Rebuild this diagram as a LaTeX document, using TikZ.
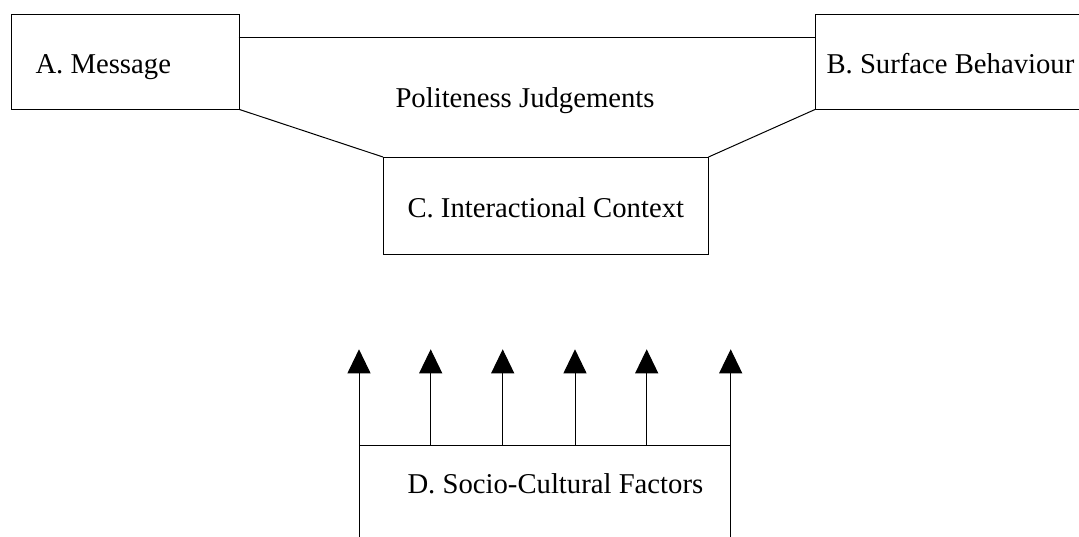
\documentclass[tikz,border=0pt]{standalone}
\usepackage{fontspec}
\setmainfont{Liberation Serif}
\usetikzlibrary{arrows.meta}
\begin{document}
\begin{tikzpicture}[x=1pt,y=-1pt,
  line width=1pt,
  lbl/.style={anchor=base west,inner sep=0pt,font=\fontsize{28.7}{34}\selectfont},
  boxA/.style={draw,rectangle,inner sep=0pt,minimum width=#1,anchor=north west},
  up/.style={-{Triangle[width=23pt,length=24pt]}}]
\useasboundingbox (0,0) rectangle (1079,536);

% three boxes of the upper model
\node[boxA=227.5pt,minimum height=95pt] (A) at (11,13.5) {};
\node[boxA=270pt,minimum height=95pt] (B) at (815,13.5) {};
\node[boxA=324.5pt,minimum height=96.5pt] (C) at (383,157) {};

\node[lbl] (tA) at (35,73) {A. Message};
\node[lbl] (tB) at (826,73) {B. Surface Behaviour};
\node[lbl] (tC) at (407,217) {C. Interactional Context};
\node[lbl] (tP) at (395,107.3) {Politeness Judgements};

% funnel joining the boxes
\coordinate (Atop) at (238.5,37.3);
\coordinate (Btop) at (815,37.3);
\draw (Atop) -- (Btop);
\draw (A.south east) -- (C.north west);
\draw (B.south west) -- (C.north east);

% socio-cultural factors and their upward arrows
\foreach \i/\x in {1/359,2/430.7,3/502.7,4/575,5/646.7,6/730.7}{
  \coordinate (f\i) at (\x,445.3);
  \coordinate (t\i) at (\x,349.3);
}
\coordinate (d1) at (359,545);
\coordinate (d6) at (730.7,545);
\draw (d1) -- (f1) -- (f6) -- (d6);
\foreach \i in {1,...,6}{
  \draw[up] (f\i) -- (t\i);
}
\node[lbl] (tD) at (407,493) {D. Socio-Cultural Factors};
\end{tikzpicture}
\end{document}
